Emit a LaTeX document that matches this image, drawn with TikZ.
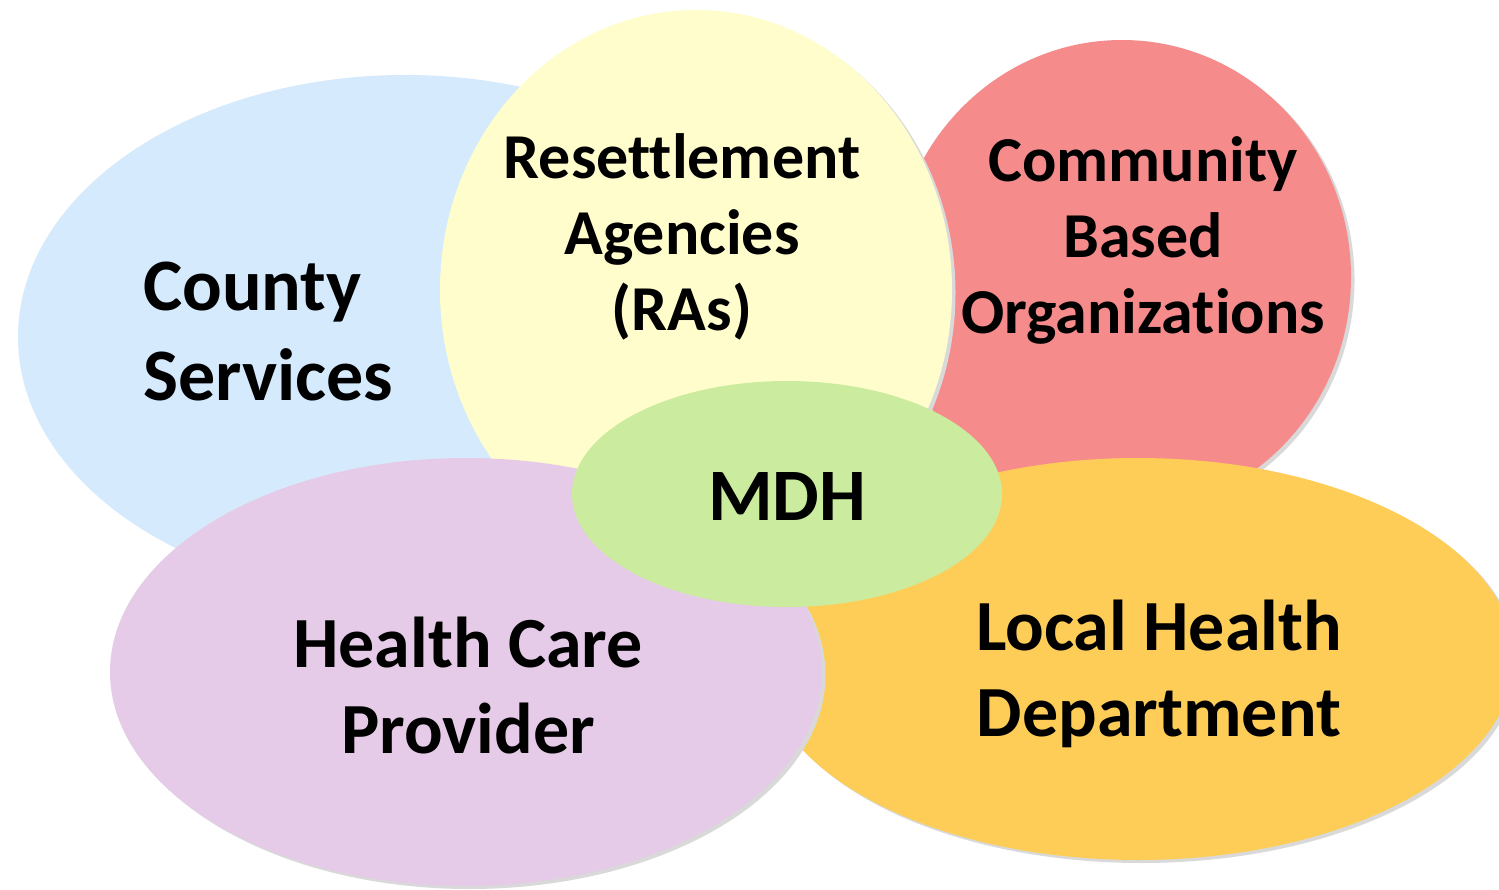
\documentclass[tikz,border=0pt]{standalone}
\usepackage{fontspec}
\setmainfont{Carlito}[Ligatures={NoCommon}]
\usetikzlibrary{shapes.geometric,shadows}
\definecolor{cblue}{RGB}{213,234,252}
\definecolor{cyellow}{RGB}{255,253,204}
\definecolor{cred}{RGB}{245,139,139}
\definecolor{clav}{RGB}{230,203,232}
\definecolor{corange}{RGB}{254,205,88}
\definecolor{cgreen}{RGB}{203,236,158}
\tikzset{
  blob/.style={ellipse, inner sep=0pt, draw=none},
  shad/.style={drop shadow={shadow xshift=3.5pt, shadow yshift=-3pt, fill=black!15, opacity=1}},
  lbl/.style={text=black, inner sep=0pt},
  bigtxt/.style={font=\fontsize{72pt}{86pt}\selectfont\bfseries},
  midtxt/.style={font=\fontsize{64pt}{76pt}\selectfont\bfseries},
}
\begin{document}
\begin{tikzpicture}[x=1pt,y=-1pt]
\useasboundingbox[fill=white] (0,0) rectangle (1499,890);
% circles, back to front
\node[blob, fill=cblue, minimum width=774pt, minimum height=524pt] (county) at (405,337) {};
\node[blob, shad, fill=cred, minimum width=458pt, minimum height=474pt] (cbo) at (1122,277) {};
\node[blob, shad, fill=cyellow, minimum width=512pt, minimum height=560pt] (ra) at (696,290) {};
\node[blob, shad, fill=corange, minimum width=752pt, minimum height=402pt] (lhd) at (1138,659) {};
\node[blob, shad, fill=clav, minimum width=712pt, minimum height=428pt] (hcp) at (466,672) {};
\node[blob, fill=cgreen, minimum width=430pt, minimum height=226pt] (mdh) at (787,494) {};
% labels (anchor=base is the baseline of the last line)
\node[lbl, align=left, anchor=base west, font=\fontsize{74pt}{90pt}\selectfont\bfseries] (countytxt) at (143,400) {County\\Services};
\node[lbl, midtxt, align=center, anchor=base] (ratxt) at (682,331) {Resettlement\\Agencies\\(RAs)};
\node[lbl, midtxt, align=center, anchor=base] (cbotxt) at (1143,334) {Community\\Based\\Organizations};
\node[lbl, font=\fontsize{74pt}{88pt}\selectfont\bfseries, anchor=base] (mdhtxt) at (787,520) {MDH};
\node[lbl, bigtxt, align=center, anchor=base] (hcptxt) at (468,753) {Health Care\\Provider};
\node[lbl, bigtxt, align=center, anchor=base] (lhdtxt) at (1159,736) {Local Health\\Department};
\end{tikzpicture}
\end{document}
